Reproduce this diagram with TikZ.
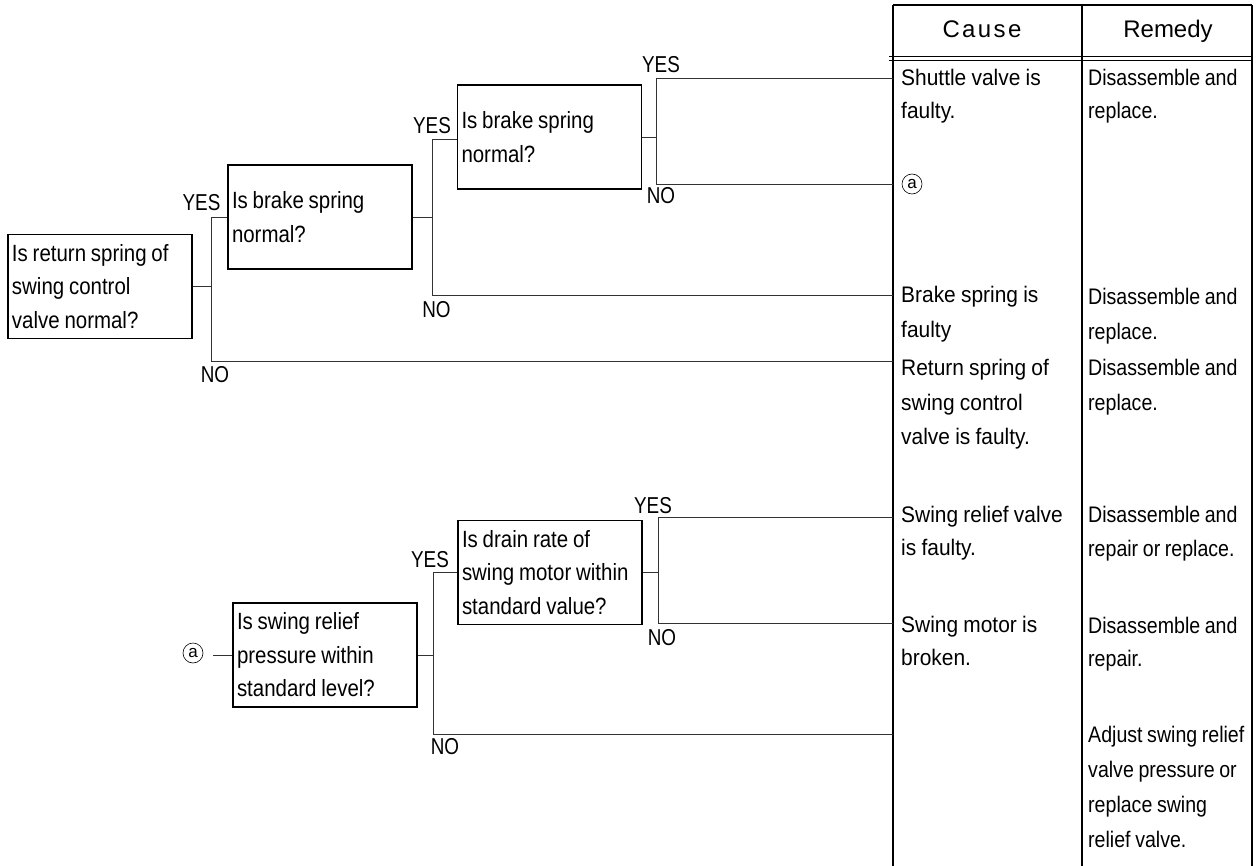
\documentclass[tikz,border=0pt]{standalone}
\usepackage{fontspec}
\setmainfont{Liberation Sans}
\newfontfamily\narrowf[FakeStretch=0.87,WordSpace=0.85]{Liberation Sans}
\newfontfamily\causef[FakeStretch=0.93,WordSpace=0.9]{Liberation Sans}
\newfontfamily\lblf[FakeStretch=0.82]{Liberation Sans}
\begin{document}
\begin{tikzpicture}[x=1pt,y=-1pt,
  qbox/.style={draw,line width=1.3pt,minimum width=184pt,minimum height=104pt,text width=176pt,inner xsep=4pt,inner ysep=0pt,align=flush left,font=\narrowf\fontsize{23.5}{33.5}\selectfont},
  lbl/.style={inner sep=0pt,anchor=base,font=\lblf\fontsize{23}{24}\selectfont},
  ctext/.style={inner sep=0pt,anchor=base west,font=\causef\fontsize{22.5}{30}\selectfont},
  rtext/.style={inner sep=0pt,anchor=base west,font=\narrowf\fontsize{22.5}{30}\selectfont},
  htext/.style={inner sep=0pt,anchor=base,font=\fontsize{24}{28}\selectfont},
  conn/.style={line width=0.9pt,draw=black!80},
  tline/.style={line width=1.4pt},
  circ/.style={circle,draw,line width=0.6pt,inner sep=0pt,minimum size=20pt,font=\fontsize{17}{17}\selectfont}]
\useasboundingbox (0,0) rectangle (1257,866);

% ---- table ----
\coordinate (tl) at (893,5);
\coordinate (tm) at (1082,5);
\coordinate (tr) at (1252,5);
\coordinate (bl) at (893,866);
\coordinate (bm) at (1082,866);
\coordinate (br) at (1252,866);
\draw[tline] (tl) -- (tr);
\draw[tline] (tl) -- (bl);
\draw[tline] (tm) -- (bm);
\draw[tline] (tr) -- (br);
\coordinate (h1) at (889,57);
\coordinate (h2) at (889,61);
\draw[line width=1pt] (h1) -- (h1 -| tr);
\draw[line width=1pt] (h2) -- (h2 -| tr);
\node[htext] (hc) at (982,38) {\addfontfeature{LetterSpace=10}Cause};
\node[htext] (hr) at (1168,38) {Remedy};

% ---- cause column ----
\node[ctext] (c1) at (901,86) {Shuttle valve is};
\node[ctext] (c2) at (901,119) {faulty.};
\node[circ] (a1) at (912,184) {a};
\node[ctext] (c3) at (901,303) {Brake spring is};
\node[ctext] (c4) at (901,337) {faulty};
\node[ctext] (c5) at (901,375) {Return spring of};
\node[ctext] (c6) at (901,410) {swing control};
\node[ctext] (c7) at (901,444) {valve is faulty.};
\node[ctext] (c8) at (901,522) {Swing relief valve};
\node[ctext] (c9) at (901,555) {is faulty.};
\node[ctext] (c10) at (901,632) {Swing motor is};
\node[ctext] (c11) at (901,665) {broken.};

% ---- remedy column ----
\node[rtext] (r1) at (1088,86) {Disassemble and};
\node[rtext] (r2) at (1088,119) {replace.};
\node[rtext] (r3) at (1088,305) {Disassemble and};
\node[rtext] (r4) at (1088,339) {replace.};
\node[rtext] (r5) at (1088,375) {Disassemble and};
\node[rtext] (r6) at (1088,410) {replace.};
\node[rtext] (r7) at (1088,522) {Disassemble and};
\node[rtext] (r8) at (1088,556) {repair or replace.};
\node[rtext] (r9) at (1088,633) {Disassemble and};
\node[rtext] (r10) at (1088,666) {repair.};
\node[rtext] (r11) at (1088,742) {Adjust swing relief};
\node[rtext] (r12) at (1088,777) {valve pressure or};
\node[rtext] (r13) at (1088,812) {replace swing};
\node[rtext] (r14) at (1088,847) {relief valve.};

% ---- upper tree ----
\node[qbox] (A) at (100,286.5) {Is return spring of\\swing control\\valve normal?};
\node[qbox] (B) at (320,217) {Is brake spring\\normal?};
\node[qbox] (C) at (549.5,137) {Is brake spring\\normal?};

\coordinate (ja) at (211,286.5);
\coordinate (jan) at (211,361);
\draw[conn] (A.east) -- (ja);
\draw[conn] (B.west) -| (jan) -- (jan -| tl);

\coordinate (jb) at (432,217);
\coordinate (jby) at (432,139);
\coordinate (jbn) at (432,295);
\draw[conn] (B.east) -- (jb);
\draw[conn] (jby -| C.west) -- (jby) -- (jbn) -- (jbn -| tl);

\coordinate (jcy) at (656,78);
\coordinate (jcn) at (656,184);
\draw[conn] (C.east) -- (C.east -| jcy);
\draw[conn] (jcy -| tl) -- (jcy) -- (jcn) -- (jcn -| tl);

\node[lbl] (y1) at (201.5,210.7) {YES};
\node[lbl] (n1) at (215,382) {NO};
\node[lbl] (y2) at (432,134) {YES};
\node[lbl] (n2) at (436.5,317) {NO};
\node[lbl] (y3) at (661,73) {YES};
\node[lbl] (n3) at (661,204) {NO};

% ---- lower tree ----
\node[qbox] (D) at (325,655) {Is swing relief\\pressure within\\standard level?};
\node[qbox] (E) at (550,572.5) {Is drain rate of\\swing motor within\\standard value?};
\node[circ] (a2) at (193,653) {a};
\coordinate (a2e) at (213,655);
\draw[conn] (a2e) -- (a2e -| D.west);

\coordinate (jd) at (433,655);
\coordinate (jdn) at (433,734);
\draw[conn] (D.east) -- (jd);
\draw[conn] (E.west) -| (jdn) -- (jdn -| tl);

\coordinate (jey) at (658,517);
\coordinate (jen) at (658,623);
\draw[conn] (E.east) -- (E.east -| jey);
\draw[conn] (jey -| tl) -- (jey) -- (jen) -- (jen -| tl);

\node[lbl] (y4) at (430,567) {YES};
\node[lbl] (n4) at (445,754) {NO};
\node[lbl] (y5) at (653,513) {YES};
\node[lbl] (n5) at (662,645) {NO};
\end{tikzpicture}
\end{document}
